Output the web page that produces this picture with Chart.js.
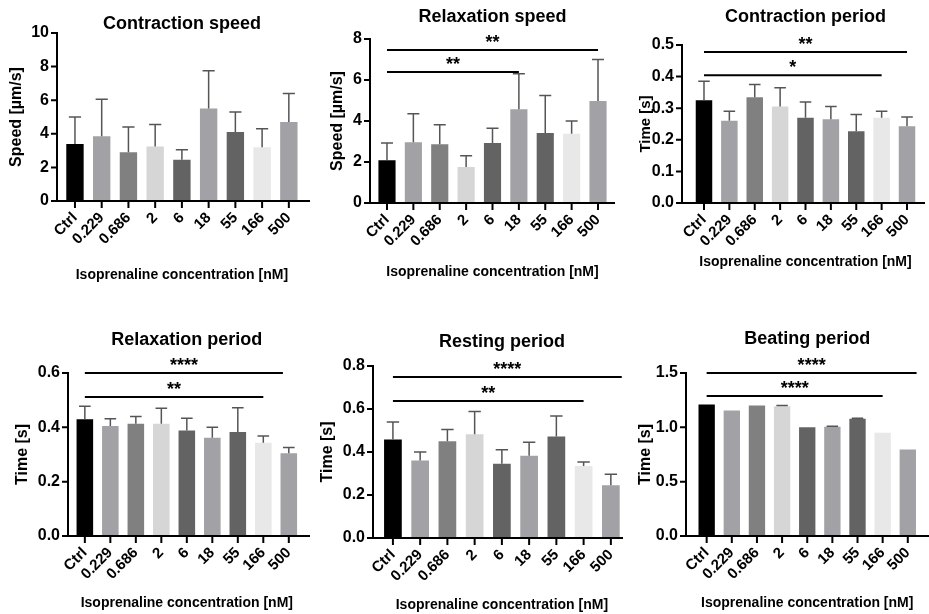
<!DOCTYPE html>
<html>
<head>
<meta charset="utf-8">
<title>Isoprenaline dose response</title>
<script src="https://cdn.jsdelivr.net/npm/chart.js@4.4.1/dist/chart.umd.min.js"></script>
<style>
  html, body { margin: 0; padding: 0; background: #fff; }
  #page { position: relative; width: 929px; height: 614px; overflow: hidden; }
  #page canvas { position: absolute; }
</style>
</head>
<body>
<div id="page"></div>
<script>
// Isoprenaline concentrations (nM) and the bar shade used for each group
const concentrations = ['Ctrl', '0.229', '0.686', '2', '6', '18', '55', '166', '500'];
const barColors = ['#000000', '#a2a2a6', '#808080', '#d6d6d6', '#636363', '#a2a2a6', '#636363', '#e8e8e8', '#a2a2a6'];

// mean and SD per group
const contractionSpeed = [3.4, 3.85, 2.9, 3.25, 2.45, 5.5, 4.1, 3.2, 4.7];
const contractionSpeedSd = [1.6, 2.2, 1.5, 1.3, 0.6, 2.25, 1.2, 1.1, 1.7];

const relaxationSpeed = [2.08, 2.96, 2.87, 1.76, 2.93, 4.57, 3.42, 3.38, 4.98];
const relaxationSpeedSd = [0.85, 1.39, 0.95, 0.54, 0.72, 1.73, 1.83, 0.62, 2.02];

const contractionPeriod = [0.325, 0.26, 0.335, 0.305, 0.27, 0.265, 0.227, 0.27, 0.243];
const contractionPeriodSd = [0.06, 0.03, 0.04, 0.06, 0.05, 0.04, 0.053, 0.02, 0.029];

const relaxationPeriod = [0.43, 0.405, 0.413, 0.413, 0.388, 0.362, 0.383, 0.343, 0.305];
const relaxationPeriodSd = [0.048, 0.027, 0.027, 0.057, 0.045, 0.038, 0.089, 0.025, 0.021];

const restingPeriod = [0.458, 0.36, 0.45, 0.482, 0.345, 0.383, 0.472, 0.335, 0.245];
const restingPeriodSd = [0.082, 0.04, 0.055, 0.106, 0.065, 0.062, 0.095, 0.018, 0.051];

const beatingPeriod = [1.21, 1.155, 1.2, 1.195, 1.0, 1.005, 1.08, 0.95, 0.795];
const beatingPeriodSd = [0, 0, 0, 0.006, 0, 0.005, 0.004, 0, 0];

// significance brackets vs Ctrl: end category, height on the y scale, label
const relaxationSpeedSig = [
    { to: 8, level: 7.46, stars: '**' },
    { to: 5, level: 6.39, stars: '**' }
];
const contractionPeriodSig = [
    { to: 8, level: 0.478, stars: '**' },
    { to: 7, level: 0.404, stars: '*' }
];
const relaxationPeriodSig = [
    { to: 7.77, level: 0.6, stars: '****' },
    { to: 7, level: 0.512, stars: '**' }
];
const restingPeriodSig = [
    { to: 8.4, level: 0.749, stars: '****' },
    { to: 7, level: 0.637, stars: '**' }
];
const beatingPeriodSig = [
    { to: 8.35, level: 1.5, stars: '****' },
    { to: 7, level: 1.288, stars: '****' }
];

const X_TITLE = 'Isoprenaline concentration [nM]';
const FONT = '"Liberation Sans", Arial, Helvetica, sans-serif';

Chart.defaults.font.family = FONT;
Chart.defaults.font.weight = 'bold';
Chart.defaults.color = '#000';

const baseFonts = { title: 18, yTick: 16, xTick: 15, yTitle: 16, xTitle: 14, stars: 18 };

// page placement of every panel (box = canvas, plot = category edges / value range)
const panels = [
    {
        title: 'Contraction speed', yTitle: 'Speed [µm/s]', mean: contractionSpeed, sd: contractionSpeedSd,
        yMax: 10, yStep: 2, decimals: 0, sig: [],
        box: [0, 0, 310, 290], plot: { left: 61.6, right: 303.4, top: 33, bottom: 201 },
        axisX: 57, axisEnd: 310, titleY: 24, yTitleX: 17, xTitleY: 275, fonts: baseFonts
    },
    {
        title: 'Relaxation speed', yTitle: 'Speed [µm/s]', mean: relaxationSpeed, sd: relaxationSpeedSd,
        yMax: 8, yStep: 2, decimals: 0, sig: relaxationSpeedSig,
        box: [310, 0, 310, 290], plot: { left: 373.8, right: 611.2, top: 39, bottom: 203 },
        axisX: 370, axisEnd: 615, titleY: 17, yTitleX: 338, xTitleY: 272, fonts: baseFonts
    },
    {
        title: 'Contraction period', yTitle: 'Time [s]', mean: contractionPeriod, sd: contractionPeriodSd,
        yMax: 0.5, yStep: 0.1, decimals: 1, sig: contractionPeriodSig,
        box: [620, 0, 309, 290], plot: { left: 691.3, right: 919.7, top: 45, bottom: 203 },
        axisX: 682, axisEnd: 925, titleY: 17, yTitleX: 646, xTitleY: 262,
        fonts: { ...baseFonts, yTitle: 15 }
    },
    {
        title: 'Relaxation period', yTitle: 'Time [s]', mean: relaxationPeriod, sd: relaxationPeriodSd,
        yMax: 0.6, yStep: 0.2, decimals: 1, sig: relaxationPeriodSig,
        box: [0, 310, 310, 304], plot: { left: 72.1, right: 303.9, top: 373, bottom: 536 },
        axisX: 68, axisEnd: 310, titleY: 340, yTitleX: 23, xTitleY: 603, fonts: baseFonts
    },
    {
        title: 'Resting period', yTitle: 'Time [s]', mean: restingPeriod, sd: restingPeriodSd,
        yMax: 0.8, yStep: 0.2, decimals: 1, sig: restingPeriodSig,
        box: [310, 310, 322, 304], plot: { left: 379.3, right: 625.7, top: 366, bottom: 538 },
        axisX: 373, axisEnd: 623, titleY: 342, yTitleX: 328, xTitleY: 605, fonts: baseFonts
    },
    {
        title: 'Beating period', yTitle: 'Time [s]', mean: beatingPeriod, sd: beatingPeriodSd,
        yMax: 1.5, yStep: 0.5, decimals: 1, sig: beatingPeriodSig,
        box: [632, 310, 297, 304], plot: { left: 694.1, right: 926.9, top: 373, bottom: 536 },
        axisX: 686, axisEnd: 929, titleY: 339, yTitleX: 646, xTitleY: 603, fonts: baseFonts
    }
];

// axes, SD whiskers and significance bars, drawn on top of the bars
function decorations(p) {
    const [bx] = p.box;
    return {
        id: 'decorations',
        afterDatasetsDraw(chart) {
            const { ctx, chartArea: area, scales: { x, y } } = chart;
            const bars = chart.getDatasetMeta(0).data;
            ctx.save();

            ctx.strokeStyle = '#555';
            ctx.lineWidth = 1.5;
            p.sd.forEach((s, i) => {
                if (!s) return;
                const bar = bars[i];
                const top = y.getPixelForValue(p.mean[i] + s);
                const half = bar.width * 0.35;
                ctx.beginPath();
                ctx.moveTo(bar.x, bar.y);
                ctx.lineTo(bar.x, top);
                ctx.moveTo(bar.x - half, top);
                ctx.lineTo(bar.x + half, top);
                ctx.stroke();
            });

            const ax = p.axisX - bx;
            const axEnd = p.axisEnd - bx;
            ctx.strokeStyle = '#000';
            ctx.lineWidth = 2;
            ctx.beginPath();
            ctx.moveTo(ax, area.top - 1);
            ctx.lineTo(ax, area.bottom);
            ctx.moveTo(ax - 1, area.bottom);
            ctx.lineTo(axEnd, area.bottom);
            y.ticks.forEach(t => {
                const py = y.getPixelForValue(t.value);
                ctx.moveTo(ax - 6, py);
                ctx.lineTo(ax, py);
            });
            bars.forEach(b => {
                ctx.moveTo(b.x, area.bottom);
                ctx.lineTo(b.x, area.bottom + 7);
            });
            ctx.stroke();

            ctx.fillStyle = '#000';
            ctx.textAlign = 'center';
            ctx.textBaseline = 'alphabetic';
            ctx.font = 'bold ' + p.fonts.stars + 'px ' + FONT;
            p.sig.forEach(s => {
                const x0 = x.getPixelForValue(0);
                const x1 = x.getPixelForValue(s.to);
                const py = y.getPixelForValue(s.level);
                ctx.beginPath();
                ctx.moveTo(x0, py);
                ctx.lineTo(x1, py);
                ctx.stroke();
                ctx.fillText(s.stars, (x0 + x1) / 2, py - 2);
            });
            ctx.restore();
        }
    };
}

function makePanel(p) {
    const [bx, by, bw, bh] = p.box;
    const f = p.fonts;
    const canvas = document.createElement('canvas');
    canvas.width = bw;
    canvas.height = bh;
    canvas.style.left = bx + 'px';
    canvas.style.top = by + 'px';
    document.getElementById('page').appendChild(canvas);

    const lhTitle = f.title * 1.2;
    const lhY = f.yTitle * 1.2;
    const lhX = f.xTitle * 1.2;

    return new Chart(canvas, {
        type: 'bar',
        data: {
            labels: concentrations,
            datasets: [{
                data: p.mean,
                backgroundColor: barColors,
                borderWidth: 0,
                barPercentage: 0.65,
                categoryPercentage: 1
            }]
        },
        options: {
            responsive: false,
            animation: false,
            devicePixelRatio: 1,
            layout: { padding: { left: 0, top: 0, bottom: 0, right: bx + bw - p.plot.right } },
            plugins: {
                legend: { display: false },
                tooltip: { enabled: false },
                title: {
                    display: true,
                    text: p.title,
                    fullSize: false,
                    font: { size: f.title, weight: 'bold' },
                    padding: { top: p.titleY - by - lhTitle / 2, bottom: p.plot.top - p.titleY - lhTitle / 2 }
                }
            },
            scales: {
                x: {
                    grid: { display: false, drawTicks: false },
                    border: { display: false },
                    ticks: {
                        autoSkip: false,
                        minRotation: 45,
                        maxRotation: 45,
                        padding: 8,
                        font: { size: f.xTick, weight: 'bold' }
                    },
                    title: {
                        display: true,
                        text: X_TITLE,
                        font: { size: f.xTitle, weight: 'bold' },
                        padding: { top: 0, bottom: by + bh - p.xTitleY - lhX / 2 }
                    },
                    afterFit: s => { s.height = by + bh - p.plot.bottom; }
                },
                y: {
                    min: 0,
                    max: p.yMax,
                    grid: { display: false, drawTicks: false },
                    border: { display: false },
                    ticks: {
                        stepSize: p.yStep,
                        padding: p.plot.left - p.axisX + 8,
                        font: { size: f.yTick, weight: 'bold' },
                        callback: v => Number(v).toFixed(p.decimals)
                    },
                    title: {
                        display: true,
                        text: p.yTitle,
                        font: { size: f.yTitle, weight: 'bold' },
                        padding: { top: p.yTitleX - bx - lhY / 2, bottom: 0 }
                    },
                    afterFit: s => { s.width = p.plot.left - bx; }
                }
            }
        },
        plugins: [decorations(p)]
    });
}

panels.forEach(makePanel);
</script>
</body>
</html>
